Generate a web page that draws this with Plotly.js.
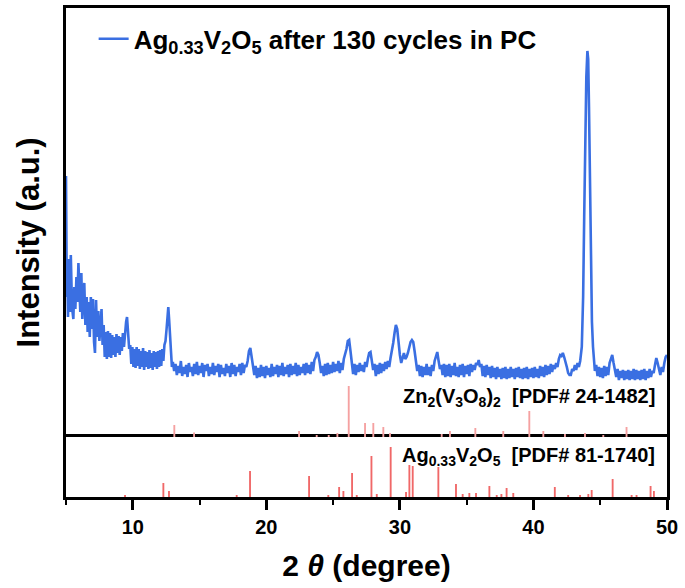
<!DOCTYPE html>
<html>
<head>
<meta charset="utf-8">
<script src="https://cdn.plot.ly/plotly-3.0.1.min.js"></script>
<style>html,body{margin:0;padding:0;background:#fff;}#chart{width:685px;height:588px;}</style>
</head>
<body>
<div id="chart"></div>
<script>
// Measured XRD pattern (2θ in degrees, intensity in arbitrary units)
const twoTheta = [
5.00,5.03,5.06,5.10,5.15,5.22,5.30,5.36,5.45,5.55,5.62,5.70,5.78,5.85,5.93,6.00,6.07,6.15,6.22,6.30,
6.37,6.45,6.55,6.62,6.70,6.78,6.86,6.94,7.02,7.10,7.17,7.25,7.33,7.42,7.50,7.58,7.66,7.74,7.82,7.90,
7.98,8.06,8.14,8.22,8.30,8.38,8.46,8.54,8.62,8.70,8.78,8.86,8.94,9.02,9.10,9.18,9.26,9.34,9.42,9.50,
9.57,9.65,9.73,9.81,9.89,9.97,10.05,10.13,10.21,10.29,10.37,10.45,10.53,10.61,10.69,10.77,10.85,10.93,11.01,11.09,
11.17,11.25,11.33,11.41,11.49,11.57,11.65,11.73,11.81,11.89,11.97,12.05,12.13,12.21,12.29,12.37,12.45,12.53,12.60,12.66,
12.72,12.79,12.86,12.93,
13.0,13.1,13.2,13.3,13.4,13.5,13.6,13.7,13.8,13.9,
14.0,14.1,14.2,14.3,14.4,14.5,14.6,14.7,14.8,14.9,
15.0,15.1,15.2,15.3,15.4,15.5,15.6,15.7,15.8,15.9,
16.0,16.1,16.2,16.3,16.4,16.5,16.6,16.7,16.8,16.9,
17.0,17.1,17.2,17.3,17.4,17.5,17.6,17.7,17.8,17.9,
18.0,18.1,18.2,18.3,18.4,18.5,18.6,18.7,18.8,18.9,
19.0,19.1,19.2,19.3,19.4,19.5,19.6,19.7,19.8,19.9,
20.0,20.1,20.2,20.3,20.4,20.5,20.6,20.7,20.8,20.9,
21.0,21.1,21.2,21.3,21.4,21.5,21.6,21.7,21.8,21.9,
22.0,22.1,22.2,22.3,22.4,22.5,22.6,22.7,22.8,22.9,
23.0,23.1,23.2,23.3,23.4,23.5,23.6,23.7,23.8,23.9,
24.0,24.1,24.2,24.3,24.4,24.5,24.6,24.7,24.8,24.9,
25.0,25.1,25.2,25.3,25.4,25.5,25.6,25.7,25.8,25.9,
26.0,26.1,26.2,26.3,26.4,26.5,26.6,26.7,26.8,26.9,
27.0,27.1,27.2,27.3,27.4,27.5,27.6,27.7,27.8,27.9,
28.0,28.1,28.2,28.3,28.4,28.5,28.6,28.7,28.8,28.9,
29.0,29.1,29.2,29.3,29.4,29.5,29.6,29.7,29.8,29.9,
30.0,30.1,30.2,30.3,30.4,30.5,30.6,30.7,30.8,30.9,
31.0,31.1,31.2,31.3,31.4,31.5,31.6,31.7,31.8,31.9,
32.0,32.1,32.2,32.3,32.4,32.5,32.6,32.7,32.8,32.9,
33.0,33.1,33.2,33.3,33.4,33.5,33.6,33.7,33.8,33.9,
34.0,34.1,34.2,34.3,34.4,34.5,34.6,34.7,34.8,34.9,
35.0,35.1,35.2,35.3,35.4,35.5,35.6,35.7,35.8,35.9,
36.0,36.1,36.2,36.3,36.4,36.5,36.6,36.7,36.8,36.9,
37.0,37.1,37.2,37.3,37.4,37.5,37.6,37.7,37.8,37.9,
38.0,38.1,38.2,38.3,38.4,38.5,38.6,38.7,38.8,38.9,
39.0,39.1,39.2,39.3,39.4,39.5,39.6,39.7,39.8,39.9,
40.0,40.1,40.2,40.3,40.4,40.5,40.6,40.7,40.8,40.9,
41.0,41.1,41.2,41.3,41.4,41.5,41.6,41.7,41.8,41.9,
42.0,42.1,42.2,42.3,42.4,42.5,42.6,42.7,42.8,42.9,
43.0,43.1,43.2,43.3,43.4,43.5,
43.62,43.72,43.80,43.88,43.96,44.04,44.10,44.16,44.22,44.30,44.38,44.46,44.55,
44.6,44.7,44.8,44.9,
45.0,45.1,45.2,45.3,45.4,45.5,45.6,45.7,45.8,45.9,
46.0,46.1,46.2,46.3,46.4,46.5,46.6,46.7,46.8,46.9,
47.0,47.1,47.2,47.3,47.4,47.5,47.6,47.7,47.8,47.9,
48.0,48.1,48.2,48.3,48.4,48.5,48.6,48.7,48.8,48.9,
49.0,49.1,49.2,49.3,49.4,49.5,49.6,49.7,49.8,49.9,
50.0
];
const intensity = [
261,200,140,165,120,178,125,182,130,118,150,128,160,135,174,140,125,164,118,145,
154,112,140,105,135,100,140,108,138,95,84,137,100,126,96,110,128,92,112,80,
105,78,106,80,104,79,102,82,100,80,103,84,101,82,100,86,104,90,108,115,
120,100,88,92,73,90,70,88,69,90,71,88,68,86,70,89,67,86,70,85,
68,87,69,84,67,86,70,85,68,86,70,87,71,88,76,92,96,108,122,130,
118,98,80,70,
75,66,73,62,71,64,76,61,70,63,
72,60,74,65,70,61,73,63,75,62,
71,64,74,60,72,66,73,61,70,63,
74,62,71,65,73,60,72,63,69,61,
73,64,71,60,74,63,72,61,70,65,
73,62,74,64,72,70,76,86,89,80,
70,62,71,59,69,60,72,61,70,59,
71,62,69,60,73,61,70,63,72,60,
71,62,74,61,70,63,72,60,73,62,
71,63,74,61,72,62,70,64,73,62,
74,64,72,63,75,66,77,80,85,82,
74,64,71,61,73,62,74,63,72,64,
75,65,73,66,76,64,74,67,78,82,
88,96,97,86,74,63,73,62,72,65,
74,66,72,65,75,70,78,84,85,76,
67,73,61,72,63,74,64,73,66,75,
68,76,70,79,85,94,104,112,108,94,
82,74,78,84,78,80,84,90,95,97,
95,86,76,66,72,61,71,60,70,62,
73,62,70,61,72,66,76,82,85,76,
68,72,62,73,60,72,61,73,60,71,
62,74,61,70,60,72,62,73,60,71,
63,72,61,73,65,72,67,74,72,77,
70,73,61,71,60,72,62,70,59,71,
60,69,58,70,60,68,58,69,59,70,
58,68,59,70,60,68,58,69,60,70,
59,68,58,69,59,70,58,68,60,69,
59,70,60,68,59,71,61,70,60,72,
62,71,63,73,65,72,68,74,70,78,
82,81,84,80,76,70,64,62,62,68,
66,72,67,74,70,76,
90,140,220,297,360,386,378,330,270,180,115,90,74,
66,72,61,70,
60,69,59,71,61,70,62,74,78,82,
74,66,60,68,57,66,59,67,57,66,
58,67,57,66,58,68,57,67,58,66,
57,67,58,68,57,66,59,68,60,66,
64,72,79,74,66,62,70,65,74,80,
82
];
if (twoTheta.length !== intensity.length) {
  throw new Error('length mismatch ' + twoTheta.length + ' vs ' + intensity.length);
}

// Reference pattern: Zn2(V3O8)2, PDF# 24-1482
const znPos = [13.11,14.59,22.45,23.77,24.67,25.32,26.17,27.39,28.01,28.76,29.26,33.13,33.75,35.65,37.74,39.69,40.74,42.36,43.86,45.23,46.97];
const znInt = [12,4.5,6,2,2,4,51,14,14,10,4,3,6,9,6,26,6,3,4,2,10];

// Reference pattern: Ag0.33V2O5, PDF# 81-1740
const agPos = [9.42,12.29,12.71,17.78,18.78,23.20,24.64,25.45,25.77,26.42,26.77,27.87,28.27,29.31,30.46,30.71,30.96,32.88,34.20,34.70,35.20,35.70,36.70,37.25,37.60,37.99,38.49,41.60,42.60,43.49,44.11,44.36,45.93,47.35,47.72,48.77,49.02];
const agInt = [2,14,6,2,26,21,2,10,6,24,2,41,3,50,5,32,31,30,13,3,4,4,11,2,3,9,4,10,2,2,3,7,18,2,2,11,6];

const FONT = 'Liberation Sans, Arial, Helvetica, sans-serif';
const NB = '\u00A0';

const traces = [
  {type:'bar', x: znPos, y: znInt, xaxis:'x2', yaxis:'y2', width:0.14,
   marker:{color:'#f5a1a1', line:{width:0}}, showlegend:false, hoverinfo:'x+y'},
  {type:'bar', x: agPos, y: agInt, xaxis:'x', yaxis:'y', width:0.14,
   marker:{color:'#f06868', line:{width:0}}, showlegend:false, hoverinfo:'x+y'},
  {type:'scatter', mode:'lines', x: twoTheta, y: intensity, xaxis:'x2', yaxis:'y2',
   name:'Ag<sub>0.33</sub>V<sub>2</sub>O<sub>5</sub> after 130 cycles in PC',
   line:{color:'#3a6fe2', width:2.6}, showlegend:true}
];

const split = 60/489;
const layout = {
  width:685, height:588,
  margin:{l:66, r:18, t:8, b:91},
  paper_bgcolor:'#ffffff', plot_bgcolor:'#ffffff',
  font:{family:FONT, color:'#000000'},
  barmode:'overlay',
  showlegend:true,
  legend:{x:0.046, y:0.985, xanchor:'left', yanchor:'top', bgcolor:'rgba(0,0,0,0)',
          font:{family:FONT, size:26, color:'#000', weight:'bold'}},
  xaxis:{domain:[0,1], anchor:'y', range:[5,50], showline:true, linewidth:3, linecolor:'#000', mirror:true,
         ticks:'outside', ticklen:10, tickwidth:3, tickcolor:'#000', tick0:0, dtick:10,
         minor:{tick0:0, dtick:5, ticks:'outside', ticklen:5, tickwidth:2, tickcolor:'#000', showgrid:false},
         showgrid:false, zeroline:false, automargin:false,
         tickfont:{family:FONT, size:20, color:'#000', weight:'bold'},
         title:{text:'2 <i>θ</i> (degree)', font:{family:FONT, size:30, color:'#000', weight:'bold'}, standoff:18}},
  yaxis:{domain:[0, split], anchor:'x', range:[0,60], showline:true, linewidth:3, linecolor:'#000', mirror:true,
         ticks:'', showticklabels:false, showgrid:false, zeroline:false},
  xaxis2:{anchor:'y2', matches:'x', range:[5,50], side:'top', showline:true, linewidth:3, linecolor:'#000', mirror:false,
          ticks:'', showticklabels:false, showgrid:false, zeroline:false},
  yaxis2:{domain:[split,1], anchor:'x2', range:[0,429], showline:true, linewidth:3, linecolor:'#000', mirror:true,
          ticks:'', showticklabels:false, showgrid:false, zeroline:false},
  annotations:[
    {xref:'paper', yref:'paper', x:-0.062, y:0.52, xanchor:'center', yanchor:'middle', textangle:-90, showarrow:false,
     text:'Intensity (a.u.)', font:{family:FONT, size:31, color:'#000', weight:'bold'}},
    {xref:'paper', yref:'paper', x:0.983, y:0.2025, xanchor:'right', yanchor:'middle', showarrow:false,
     text:'Zn<sub>2</sub>(V<sub>3</sub>O<sub>8</sub>)<sub>2</sub>'+NB+NB+'[PDF# 24-1482]',
     font:{family:FONT, size:20, color:'#000', weight:'bold'}},
    {xref:'paper', yref:'paper', x:0.983, y:0.082, xanchor:'right', yanchor:'middle', showarrow:false,
     text:'Ag<sub>0.33</sub>V<sub>2</sub>O<sub>5</sub>'+NB+NB+'[PDF# 81-1740]',
     font:{family:FONT, size:20, color:'#000', weight:'bold'}}
  ]
};

Plotly.newPlot('chart', traces, layout, {staticPlot:true, displayModeBar:false});
</script>
</body>
</html>
